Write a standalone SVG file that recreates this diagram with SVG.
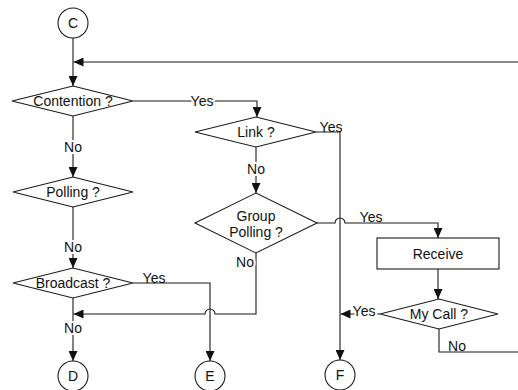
<svg xmlns="http://www.w3.org/2000/svg" width="518" height="390" viewBox="0 0 518 390">
<style>
.s{fill:#fff;stroke:#1a1a1a;stroke-width:1.1}
.c{fill:none;stroke:#1a1a1a;stroke-width:1.1}
.t{font-family:"Liberation Sans",Arial,sans-serif;font-size:14px;fill:#111;text-anchor:middle}
.l{font-family:"Liberation Sans",Arial,sans-serif;font-size:14px;fill:#111;text-anchor:middle;paint-order:stroke;stroke:#fff;stroke-width:4px;stroke-linejoin:round}
</style>
<defs>
<marker id="ah" markerUnits="userSpaceOnUse" markerWidth="10" markerHeight="9" refX="10" refY="4.5" orient="auto" viewBox="0 0 10 9">
<path d="M0,0 L10,4.5 L0,9 z" fill="#111"/>
</marker>
</defs>
<g id="connectors">
<path class="c" d="M73,38 V86" marker-end="url(#ah)"/>
<path class="c" d="M518,62 H73.5" marker-end="url(#ah)"/>
<path class="c" d="M133,101 H257 V117" marker-end="url(#ah)"/>
<path class="c" d="M73,116 V177" marker-end="url(#ah)"/>
<path class="c" d="M73,207 V268" marker-end="url(#ah)"/>
<path class="c" d="M73,298 V361" marker-end="url(#ah)"/>
<path class="c" d="M256,147 V193" marker-end="url(#ah)"/>
<path class="c" d="M316,132 H340 V360" marker-end="url(#ah)"/>
<path class="c" d="M317,223 H335 A5,5 0 0 1 345,223 H438 V238" marker-end="url(#ah)"/>
<path class="c" d="M438,269 V299" marker-end="url(#ah)"/>
<path class="c" d="M380,314 H340.5" marker-end="url(#ah)"/>
<path class="c" d="M439,329 V352 H518"/>
<path class="c" d="M133,283 H210 V361" marker-end="url(#ah)"/>
<path class="c" d="M256,253 V314 H215 A5,5 0 0 0 205,314 H73.5" marker-end="url(#ah)"/>
<text class="l" x="202" y="106">Yes</text>
<text class="l" x="73" y="152">No</text>
<text class="l" x="73" y="252">No</text>
<text class="l" x="73" y="333">No</text>
<text class="l" x="256" y="174">No</text>
<text class="t" x="331" y="132">Yes</text>
<text class="t" x="371" y="222">Yes</text>
<text class="t" x="154" y="283">Yes</text>
<text class="l" x="245" y="267">No</text>
<text class="l" x="364" y="316">Yes</text>
<text class="t" x="457" y="351">No</text>
</g>
<g id="C"><circle class="s" cx="73" cy="23" r="15"/><text class="t" x="73" y="28">C</text></g>
<g id="contention"><polygon class="s" points="12,101 73,86 133,101 73,116"/><text class="t" x="73" y="106">Contention ?</text></g>
<g id="polling"><polygon class="s" points="13,192 73,177 133,192 73,207"/><text class="t" x="73" y="197">Polling ?</text></g>
<g id="broadcast"><polygon class="s" points="13,283 73,268 133,283 73,298"/><text class="t" x="73" y="288">Broadcast ?</text></g>
<g id="link"><polygon class="s" points="195,132 256,117 316,132 256,147"/><text class="t" x="256" y="137">Link ?</text></g>
<g id="groupPolling"><polygon class="s" points="195,223 256,193 317,223 256,253"/><text class="t" x="256" y="221">Group</text><text class="t" x="256" y="237">Polling ?</text></g>
<g id="receive"><rect class="s" x="377" y="238" width="122" height="31"/><text class="t" x="438" y="259">Receive</text></g>
<g id="myCall"><polygon class="s" points="380,314 439,299 498,314 439,329"/><text class="t" x="439" y="319">My Call ?</text></g>
<g id="D"><circle class="s" cx="73" cy="376" r="15"/><text class="t" x="73" y="381">D</text></g>
<g id="E"><circle class="s" cx="210" cy="376" r="15"/><text class="t" x="210" y="381">E</text></g>
<g id="F"><circle class="s" cx="340" cy="375" r="15"/><text class="t" x="340" y="380">F</text></g>
</svg>
